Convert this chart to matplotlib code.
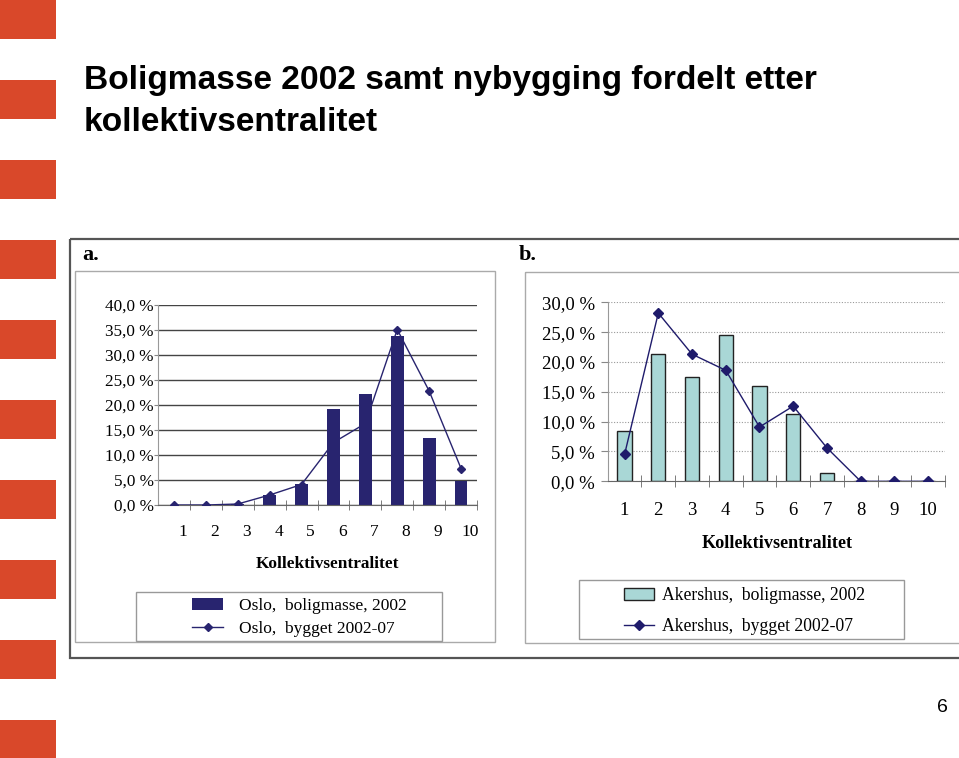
import numpy as np
import matplotlib.pyplot as plt
from matplotlib.patches import Rectangle

W, H = 959, 758

# ---------------------------
# Data
# ---------------------------
kategorier = list(range(1, 11))
oslo_boligmasse = [0.0, 0.0, 0.3, 2.1, 4.3, 19.3, 22.3, 33.8, 13.5, 4.9]
oslo_bygget = [0.0, 0.0, 0.2, 2.0, 4.1, 12.5, 16.3, 35.1, 22.8, 7.3]
akershus_boligmasse = [8.4, 21.4, 17.5, 24.5, 16.0, 11.3, 1.4, 0.0, 0.0, 0.0]
akershus_bygget = [4.5, 28.2, 21.3, 18.6, 9.1, 12.6, 5.6, 0.0, 0.0, 0.0]

yticks_a = np.arange(0, 41, 5)
yticks_b = np.arange(0, 31, 5)

tittel = ["Boligmasse 2002 samt nybygging fordelt etter", "kollektivsentralitet"]
xlabel = "Kollektivsentralitet"

navy = "#28246f"
teal = "#a9d7d6"
red = "#d9482a"
serif = "Liberation Serif"


def rect(x0, y0, x1, y1):
    # pixel box (top-left origin) -> figure fraction
    return [x0 / W, 1 - y1 / H, (x1 - x0) / W, (y1 - y0) / H]


def pct(v):
    return f"{v:.1f} %".replace(".", ",")


fig = plt.figure(figsize=(W / 100, H / 100), dpi=100)

# background layer in pixel coordinates
bg = fig.add_axes([0, 0, 1, 1])
bg.set_xlim(0, W)
bg.set_ylim(H, 0)
bg.axis("off")

for k in range(10):
    bg.add_patch(Rectangle((0, 80 * k), 56, 39, color=red, lw=0))

bg.text(84, 89, tittel[0], fontsize=24.1, fontweight="bold", family="Liberation Sans", va="baseline")
bg.text(84, 131, tittel[1], fontsize=24.1, fontweight="bold", family="Liberation Sans", va="baseline")

bg.add_patch(Rectangle((70, 239), 920, 419, fill=False, ec="#555555", lw=1.6))
bg.add_patch(Rectangle((75, 271), 420, 371, fill=False, ec="#aaaaaa", lw=1))
bg.add_patch(Rectangle((525, 272), 460, 371, fill=False, ec="#aaaaaa", lw=1))
bg.add_patch(Rectangle((136, 592), 306, 49, fill=False, ec="#999999", lw=1))
bg.add_patch(Rectangle((579, 580), 325, 59, fill=False, ec="#999999", lw=1))

bg.text(82, 255, "a.", fontsize=16, fontweight="bold", family=serif, va="center")
bg.text(519, 255, "b.", fontsize=16, fontweight="bold", family=serif, va="center")
bg.text(327, 564, xlabel, fontsize=12.4, fontweight="bold", family=serif, ha="center", va="center")
bg.text(777, 544, xlabel, fontsize=13.1, fontweight="bold", family=serif, ha="center", va="center")
bg.text(942, 708, "6", fontsize=14, family="Liberation Sans", ha="center", va="center")

# ---------------------------
# a. Oslo
# ---------------------------
axa = fig.add_axes(rect(158, 305, 477, 505))
axa.set_facecolor("none")
bars_a = axa.bar(kategorier, oslo_boligmasse, width=0.4, color=navy, zorder=2,
                 label="Oslo,  boligmasse, 2002")
line_a, = axa.plot(kategorier, oslo_bygget, color=navy, lw=1, marker="D", ms=4.5, zorder=3,
                   label="Oslo,  bygget 2002-07")
axa.set_xlim(0.5, 10.5)
axa.set_ylim(0, 40)
axa.set_yticks(yticks_a)
axa.set_yticklabels([pct(v) for v in yticks_a], family=serif, fontsize=12.3)
axa.yaxis.grid(True, color="#444444", lw=1)
axa.set_axisbelow(True)
axa.set_xticks(np.array(kategorier) + 0.28)
axa.set_xticklabels([str(c) for c in kategorier], family=serif, fontsize=12.5)
axa.set_xticks(np.arange(1.5, 11, 1), minor=True)
axa.tick_params(axis="x", which="major", length=0, pad=14)
axa.tick_params(axis="x", which="minor", length=7, direction="inout", color="#666666")
axa.tick_params(axis="y", length=3, color="#888888", pad=0)
for s in ["top", "right"]:
    axa.spines[s].set_visible(False)
axa.spines["left"].set_color("#999999")
axa.spines["bottom"].set_color("#666666")
axa.legend(handles=[bars_a, line_a], loc="center left",
           bbox_to_anchor=(192 / W, 1 - 617.5 / H), bbox_transform=fig.transFigure,
           frameon=False, borderpad=0, borderaxespad=0, handlelength=1.79,
           handletextpad=0.92, labelspacing=0.42, prop={"family": serif, "size": 12.5})

# ---------------------------
# b. Akershus
# ---------------------------
axb = fig.add_axes(rect(607.7, 302.3, 945, 481.3))
axb.set_facecolor("none")
bars_b = axb.bar(kategorier, akershus_boligmasse, width=0.42, color=teal, ec="#222222",
                 lw=1, zorder=2, label="Akershus,  boligmasse, 2002")
line_b, = axb.plot(kategorier, akershus_bygget, color="#1f1b6b", lw=1, marker="D", ms=5,
                   zorder=3, label="Akershus,  bygget 2002-07")
axb.set_xlim(0.5, 10.5)
axb.set_ylim(0, 30)
axb.set_yticks(yticks_b)
axb.set_yticklabels([pct(v) for v in yticks_b], family=serif, fontsize=13.5)
axb.yaxis.grid(True, color="#999999", lw=0.8, ls=(0, (1, 1.5)))
axb.set_axisbelow(True)
axb.set_xticks(kategorier)
axb.set_xticklabels([str(c) for c in kategorier], family=serif, fontsize=13.5)
axb.set_xticks(np.arange(1.5, 11, 1), minor=True)
axb.tick_params(axis="x", which="major", length=0, pad=15)
axb.tick_params(axis="x", which="minor", length=8, direction="inout", color="#666666")
axb.tick_params(axis="y", length=5, color="#888888", pad=4)
for s in ["top", "right"]:
    axb.spines[s].set_visible(False)
axb.spines["left"].set_color("#999999")
axb.spines["bottom"].set_color("#666666")
axb.legend(handles=[bars_b, line_b], loc="center left",
           bbox_to_anchor=(624 / W, 1 - 611 / H), bbox_transform=fig.transFigure,
           frameon=False, borderpad=0, borderaxespad=0, handlelength=1.71,
           handletextpad=0.45, labelspacing=0.8, prop={"family": serif, "size": 12.7})

fig.savefig("out.png", dpi=100)
